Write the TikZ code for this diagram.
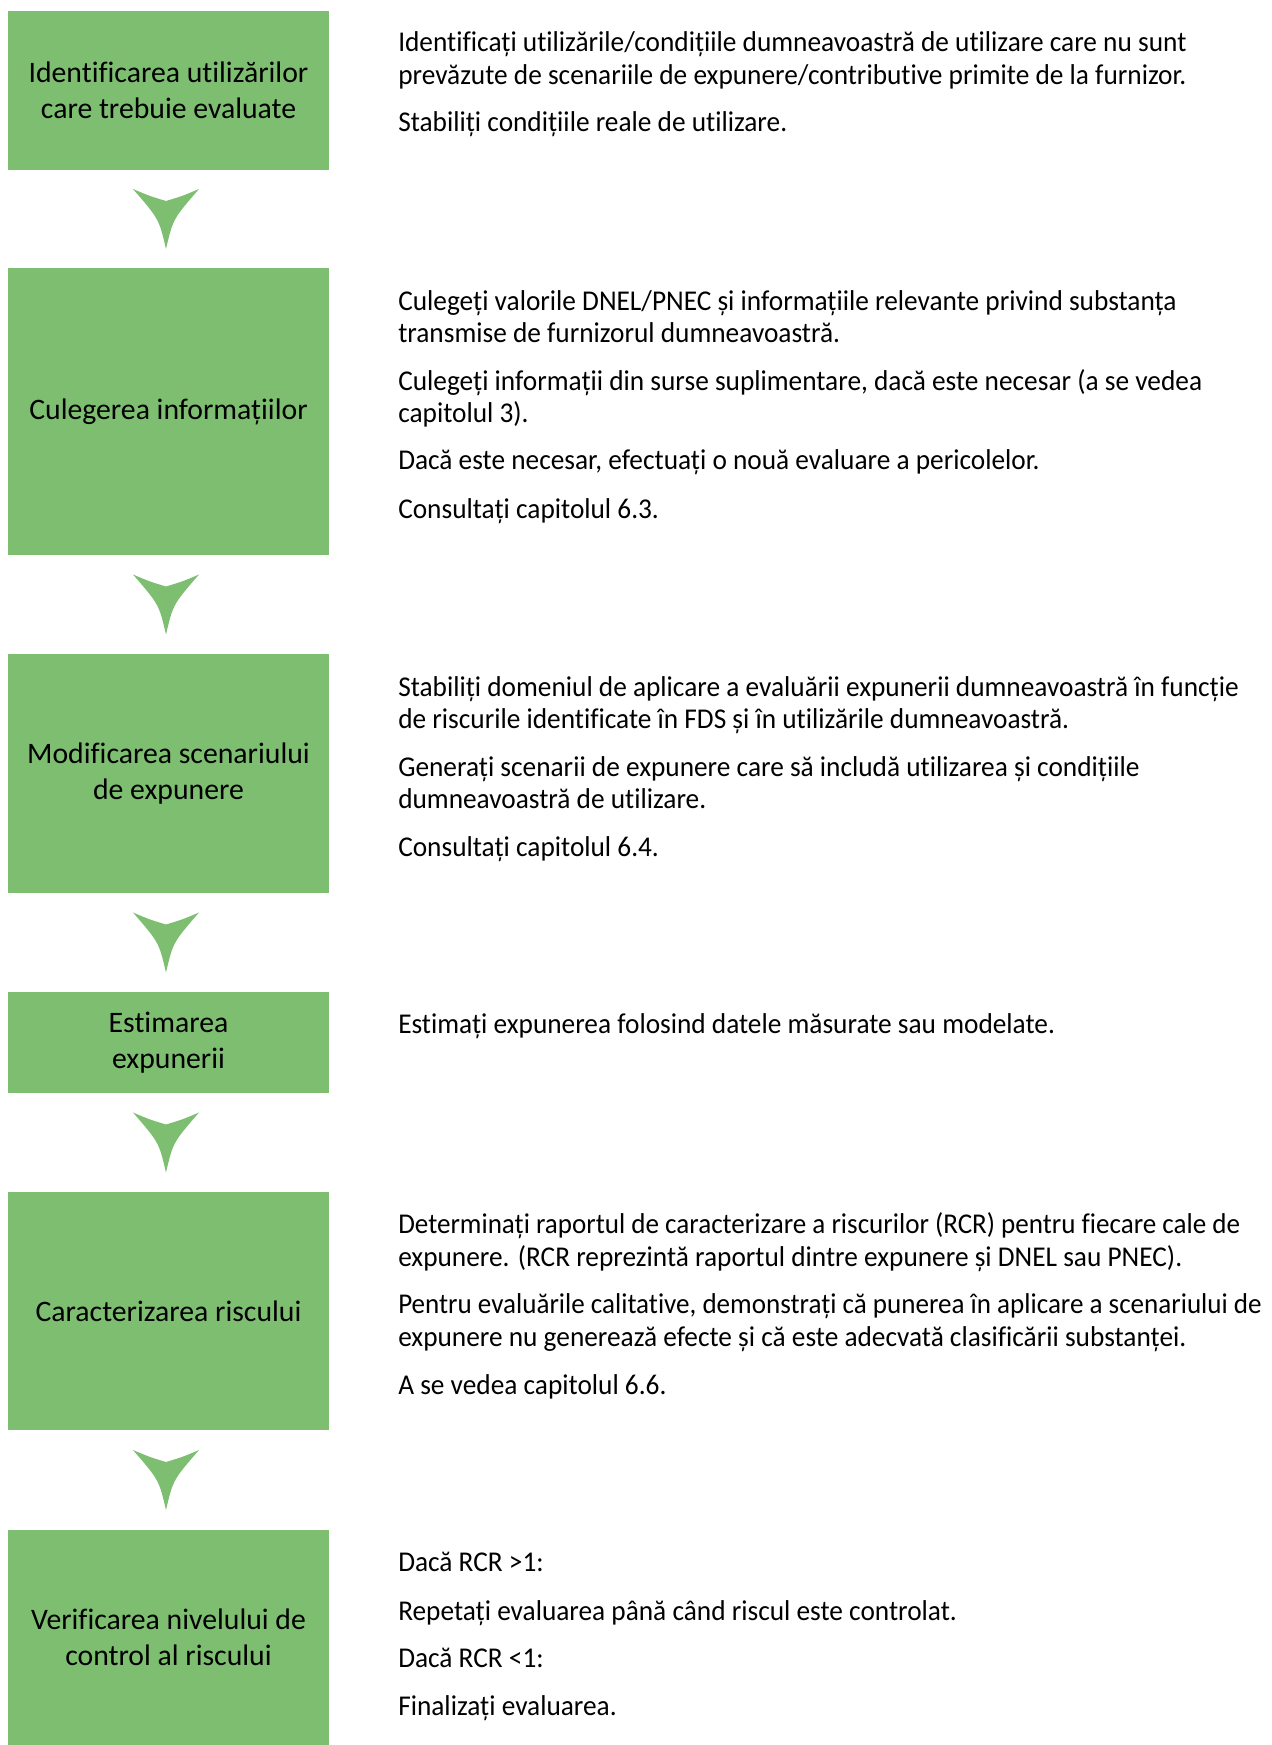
\documentclass[tikz,border=0pt]{standalone}
\usepackage{fontspec}
\setmainfont[Ligatures=NoCommon]{Carlito}
\newfontfamily\bodyfont[FakeStretch=0.953,Ligatures=NoCommon]{Carlito}
\newfontfamily\bodyfontnarrow[FakeStretch=0.944,Ligatures=NoCommon]{Carlito}
\usetikzlibrary{calc}
\definecolor{boxgreen}{RGB}{125,190,112}
\tikzset{
  x=0.75pt, y=-0.75pt,
  stepbox/.style={fill=boxgreen, inner sep=0pt, minimum width=240.75pt, align=center,
    font=\fontsize{22.3}{27}\selectfont},
  body/.style={anchor=mid west, inner sep=0pt, yshift=-5pt, font=\bodyfont\fontsize{21.5}{24}\selectfont},
  bodynarrow/.style={body, font=\bodyfontnarrow\fontsize{21.5}{24}\selectfont},
  pics/chevron/.style={code={
    \fill[boxgreen] (-35.5,-30) .. controls (-19,-23) .. (-2.5,-18)
      .. controls (14,-23) .. (30.5,-30)
      .. controls (4.5,0) .. (-2.5,30)
      .. controls (-9.5,0) .. cycle;}}
}
\begin{document}
\begin{tikzpicture}
\fill[white] (0,0) rectangle (1271,1745);
\useasboundingbox (0,0) rectangle (1271,1745);

% boxes
\node[stepbox, minimum height=119.25pt] (b1) at (168.5,90.5) {Identificarea utilizărilor\\care trebuie evaluate};
\node[stepbox, minimum height=215.25pt] (b2) at (168.5,411.5) {Culegerea informațiilor};
\node[stepbox, minimum height=179.25pt] (b3) at (168.5,773.5) {Modificarea scenariului\\de expunere};
\node[stepbox, minimum height=75.75pt] (b4) at (168.5,1042.5) {Estimarea\\expunerii};
\node[stepbox, minimum height=178.5pt] (b5) at (168.5,1311) {Caracterizarea riscului};
\node[stepbox, minimum height=161.25pt] (b6) at (168.5,1637.5) {Verificarea nivelului de\\control al riscului};

% chevrons
\pic at ($(b1.south)!0.5!(b2.north)$) {chevron};
\pic at ($(b2.south)!0.5!(b3.north)$) {chevron};
\pic at ($(b3.south)!0.5!(b4.north)$) {chevron};
\pic at ($(b4.south)!0.5!(b5.north)$) {chevron};
\pic at ($(b5.south)!0.5!(b6.north)$) {chevron};

% texts
\node[body] (t1a) at (398,42) {Identificați utilizările/condițiile dumneavoastră de utilizare care nu sunt};
\node[body] (t1b) at (398,75) {prevăzute de scenariile de expunere/contributive primite de la furnizor.};
\node[body] (t1c) at (398,122) {Stabiliți condițiile reale de utilizare.};

\node[body] (t2a) at (398,300.5) {Culegeți valorile DNEL/PNEC și informațiile relevante privind substanța};
\node[body] (t2b) at (398,333) {transmise de furnizorul dumneavoastră.};
\node[body] (t2c) at (398,381) {Culegeți informații din surse suplimentare, dacă este necesar (a se vedea};
\node[body] (t2d) at (398,413) {capitolul 3).};
\node[body] (t2e) at (398,460) {Dacă este necesar, efectuați o nouă evaluare a pericolelor.};
\node[body] (t2f) at (398,509) {Consultați capitolul 6.3.};

\node[body] (t3a) at (398,687) {Stabiliți domeniul de aplicare a evaluării expunerii dumneavoastră în funcție};
\node[body] (t3b) at (398,719) {de riscurile identificate în FDS și în utilizările dumneavoastră.};
\node[body] (t3c) at (398,767) {Generați scenarii de expunere care să includă utilizarea și condițiile};
\node[body] (t3d) at (398,799) {dumneavoastră de utilizare.};
\node[body] (t3e) at (398,847) {Consultați capitolul 6.4.};

\node[body] (t4a) at (398,1024) {Estimați expunerea folosind datele măsurate sau modelate.};

\node[bodynarrow] (t5a) at (398,1224) {Determinați raportul de caracterizare a riscurilor (RCR) pentru fiecare cale de};
\node[body] (t5b) at (398,1257) {expunere. (RCR reprezintă raportul dintre expunere și DNEL sau PNEC).};
\node[bodynarrow] (t5c) at (398,1304) {Pentru evaluările calitative, demonstrați că punerea în aplicare a scenariului de};
\node[body] (t5d) at (398,1337) {expunere nu generează efecte și că este adecvată clasificării substanței.};
\node[body] (t5e) at (398,1385) {A se vedea capitolul 6.6.};

\node[body] (t6a) at (398,1562) {Dacă RCR >1:};
\node[body] (t6b) at (398,1610.5) {Repetați evaluarea până când riscul este controlat.};
\node[body] (t6c) at (398,1658) {Dacă RCR <1:};
\node[body] (t6d) at (398,1706) {Finalizați evaluarea.};
\end{tikzpicture}
\end{document}
